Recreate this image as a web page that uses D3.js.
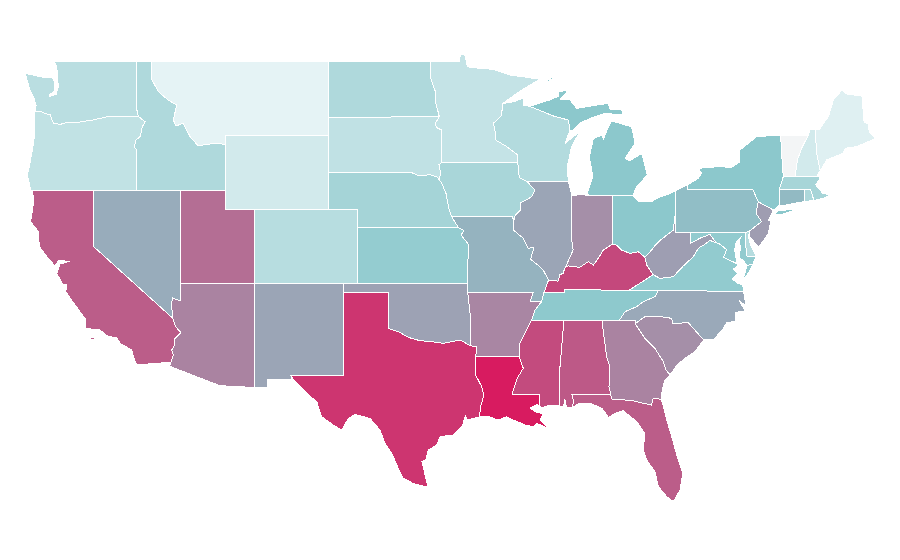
<!DOCTYPE html>
<html><head><meta charset="utf-8"><style>html,body{margin:0;background:#fff}svg{display:block}</style>
<script src="https://cdn.jsdelivr.net/npm/d3@7"></script></head><body><svg id="map" width="900" height="560"></svg>
<script>
// state values (0 = palest, 50 = teal, 100 = crimson)
const stateNames=["ME","VT","NH","MA","RI","CT","NY","PA","NJ","DE","MD","VA","WV","NC","SC","GA","FL","AL","MS","LA","AR","TN","KY","OH","IN","IL","MI","WI","MN","IA","MO","ND","SD","NE","KS","OK","TX","NM","CO","WY","MT","ID","UT","AZ","NV","CA","OR","WA"];
const stateValues=[10,0,16,37,34,54,50,53,62.5,30,47,47,62,59,66.5,70,81,82,86,100,69,49,87,50,66.5,60,50,31,23,36,56,33,25,38,46,61,92.5,60,29,16,7,33,76,70,58,81,24.5,28];
const colorDomain=[0,7,50,100];
const colorRange=["#f3f5f6","#e5f3f5","#8cc8cc","#d81b60"];
// shared borders [lon,lat]
const WA_OR=[[-123.95,46.25],[-123.5,46.27],[-123.2,46.15],[-122.9,46.1],[-122.8,45.85],[-122.65,45.62],[-122.2,45.58],[-121.7,45.69],[-121.2,45.65],[-120.6,45.74],[-120,45.81],[-119.4,45.92],[-119,46],[-116.92,46]];
const OR_ID=[[-116.92,46],[-116.47,45.72],[-116.65,45.45],[-116.81,44.91],[-117.08,44.73],[-117.2,44.37],[-117.05,44.19],[-117.03,43.83],[-117.03,42.02]];
const WA_ID=[[-117.03,49],[-117.04,46.4],[-116.92,46]];
const ID_MT=[[-116.05,49],[-116.05,48.06],[-115.57,47.34],[-114.9,46.89],[-114.33,46.62],[-114.55,45.81],[-114.39,45.49],[-113.88,45.63],[-113.42,44.91],[-112.86,44.41],[-112.29,44.5],[-111.39,44.55],[-111.05,44.46]];
const CA_COAST=[[-124.14,42.02],[-124,41.49],[-124.23,40.32],[-123.71,39.78],[-123.64,38.96],[-123.03,38.33],[-122.58,37.92],[-122.35,38.2],[-121.56,38.18],[-122.24,38.02],[-122.35,37.79],[-122.45,37.5],[-122.05,36.95],[-121.78,36.89],[-121.85,36.53],[-121.3,35.9],[-120.77,35.33],[-120.54,35.09],[-120.54,34.55],[-119.53,34.46],[-118.96,34.1],[-118.39,34.05],[-118.17,33.74],[-117.38,33.38],[-117.15,32.75],[-117.04,32.57]];
const CA_AZ=[[-114.6,35.1],[-114.39,34.64],[-114.05,34.32],[-114.44,34],[-114.51,33.56],[-114.67,33.38],[-114.55,33.1],[-114.72,32.72]];
const NV_AZ=[[-114.04,37],[-114.04,36.2],[-114.1,36.03],[-114.62,36.2],[-114.67,35.8],[-114.6,35.1]];
const RED=[[-100,34.55],[-99.3,34.37],[-98.62,34.06],[-97.83,33.88],[-97.04,33.83],[-96.25,33.74],[-95.12,33.92],[-94.44,33.62]];
const TX_LA=[[-94.04,33.02],[-94.04,32],[-93.65,31.4],[-93.5,30.95],[-93.72,30.31],[-93.81,29.75]];
const AR_TX=[[-94.44,33.62],[-94.01,33.55],[-94.04,33.02]];
const OK_AR=[[-94.6,36.5],[-94.44,35.4],[-94.44,33.62]];
const AR_MO=[[-94.6,36.5],[-90.15,36.5],[-90.37,36],[-89.58,36]];
const AR_TN=[[-89.58,36],[-90.03,35.54],[-90.26,35]];
const AR_MS=[[-90.26,35],[-90.6,34.46],[-91.05,33.74],[-91.1,33.02]];
const LA_MS=[[-91.1,33.02],[-90.83,32.39],[-91.24,31.85],[-91.58,31],[-89.74,31],[-89.7,30.3],[-89.58,30.26]];
const KS_MO=[[-95.23,40],[-94.85,39.83],[-95.05,39.6],[-94.56,39.1],[-94.6,37]];
const IA_WEST=[[-96.5,42.55],[-96.36,42.39],[-96.07,41.85],[-95.85,40.95],[-95.7,40.6]];
const ND_MN=[[-97.15,49],[-97.1,48.06],[-96.81,47.4],[-96.75,46.7],[-96.52,45.99]];
const SD_MN=[[-96.52,45.99],[-96.81,45.6],[-96.7,45.4],[-96.36,45.27],[-96.36,43.5]];
const SD_IA=[[-96.36,43.5],[-96.55,43.4],[-96.45,43],[-96.5,42.55]];
const SD_NE=[[-104.05,43],[-98.5,43],[-97.9,42.8],[-97.15,42.85],[-96.7,42.75],[-96.5,42.55]];
const MN_WI=[[-92.23,46.7],[-92.3,46.04],[-92.86,45.63],[-92.75,45.27],[-92.7,44.73],[-91.95,44.37],[-91.2,43.92],[-91.2,43.5]];
const IA_WI=[[-91.2,43.5],[-91.1,42.7],[-90.6,42.5]];
const IA_IL=[[-90.6,42.5],[-90.03,42.03],[-90.26,41.66],[-91.05,41.31],[-91,40.95],[-91.39,40.64],[-91.46,40.4]];
const MO_IL=[[-91.46,40.4],[-91.5,39.86],[-90.83,39.42],[-90.49,38.88],[-90.1,38.93],[-90.33,38.28],[-89.7,37.88],[-89.47,37.7],[-89.12,37.15]];
const WI_MI=[[-90.4,46.55],[-89.1,46.13],[-88.8,46.03],[-87.78,45.81],[-87.66,45.27]];
const IL_IN=[[-87.53,41.7],[-87.53,39.23],[-87.45,38.78],[-87.9,37.97],[-88,37.83]];
const IL_KY=[[-89.12,37.15],[-88.47,37.1],[-88.35,37.45],[-88.13,37.52],[-88,37.83]];
const IN_KY=[[-88,37.83],[-87.77,37.92],[-87,37.85],[-86.42,38.15],[-86.08,37.97],[-85.75,38.33],[-85.4,38.78],[-84.8,39.1]];
const OH_KY=[[-84.8,39.1],[-84.5,39.05],[-84.16,38.78],[-83.6,38.6],[-83.03,38.69],[-82.58,38.39]];
const OH_WV=[[-82.58,38.39],[-82.13,38.78],[-81.9,39.03],[-81.56,39.3],[-80.66,39.86],[-80.54,40.64]];
const KY_WV=[[-82.58,38.39],[-82.46,37.97],[-82.02,37.45]];
const KY_VA=[[-82.02,37.45],[-82.7,37.1],[-83.68,36.6]];
const KY_TN=[[-83.68,36.6],[-88.05,36.65],[-88.05,36.5],[-89.42,36.5]];
const TN_NC=[[-81.67,36.59],[-81.9,36.26],[-82.7,35.99],[-83.14,35.72],[-83.93,35.45],[-84.3,35]];
const WV_VA=[[-82.02,37.45],[-81.56,37.25],[-80.66,37.34],[-79.98,37.92],[-79.3,38.42],[-78.96,38.88],[-78.5,39.1],[-78.17,39.3],[-77.76,39.18]];
const MD_WV=[[-79.47,39.72],[-79.47,39.15],[-78.85,39.42],[-78.17,39.63],[-77.76,39.18]];
const POTOMAC=[[-77.76,39.18],[-77.5,39.1],[-77.04,38.8],[-77.25,38.4],[-76.9,38.25],[-76.35,38.05]];
const MS_AL=[[-88.07,35],[-88.23,33.5],[-88.39,32],[-88.39,30.37]];
const AL_GA=[[-85.5,35],[-85.18,33.02],[-84.95,32.48],[-85.02,31.4],[-84.9,31]];
const GA_SC=[[-83.25,34.8],[-82.58,34],[-81.9,33.46],[-81.33,32.74],[-81.15,32.3],[-80.88,32.03]];
const GA_FL=[[-84.9,31],[-84.85,30.73],[-83.5,30.65],[-82.13,30.4],[-82.03,30.76],[-81.67,30.74],[-81.45,30.68]];
const FL_AL=[[-84.9,31],[-87.55,31],[-87.42,30.65],[-87.5,30.28]];
const NC_SC=[[-83.25,35],[-83.25,34.8],[-82.58,35.18],[-81.67,35.2],[-80.77,35.09],[-80.7,34.82],[-79.64,34.85],[-78.6,33.92]];
const NY_PA=[[-79.71,42.03],[-75.25,42.03],[-74.9,41.39],[-74.7,41.36]];
const NJ_PA=[[-74.9,41.39],[-75.05,40.76],[-74.67,40.32],[-75.46,39.83]];
const NY_NJ=[[-74.9,41.39],[-73.88,40.95]];
const NY_CT=[[-73.48,42.03],[-73.46,41.22],[-73.76,40.98]];
const NY_VT=[[-73.38,45],[-73.3,43.83],[-73.2,42.75]];
const NY_MA=[[-73.2,42.75],[-73.48,42.03]];
const VT_NH=[[-71.5,45],[-71.96,44.28],[-72.24,43.65],[-72.4,42.75]];
const NH_ME=[[-71.05,45.3],[-70.93,44],[-70.7,43.07]];
const MA_NH=[[-72.4,42.75],[-70.93,42.78],[-70.7,43.07]];
const CT_MA=[[-73.48,42.03],[-71.78,42.03]];
const MA_RI=[[-71.78,42.03],[-71.35,42.03],[-71.12,41.46]];
const OH_IN=[[-84.75,41.72],[-84.8,39.1]];
const statePolys={
WA:[[[-122.64,49],[-122.46,48.7],[-122.4,48.12],[-122.35,47.6],[-122.5,47.2],[-122.95,47.08],[-122.95,47.2],[-122.62,47.35],[-122.62,47.9],[-122.75,48.12],[-123.25,48.1],[-124.6,48.33],[-124.27,47.43],[-124,46.98],[-123.86,46.6],...WA_OR,...[...WA_ID].reverse()]],
OR:[[...WA_OR,...OR_ID,[-124.22,42.02],[-124.45,42.84],[-124.27,43.47],[-124,44.73],[-123.95,46.25]]],
ID:[[...WA_ID,...OR_ID.slice(1),[-111.05,42.02],[-111.05,44.46],...[...ID_MT].reverse()]],
MT:[[...ID_MT,[-111.05,45],[-104.05,45],[-104.05,49]]],
WY:[[[-111.05,45],[-104.05,45],[-104.05,41],[-111.05,41]]],
CA:[[[-124.14,42.02],[-120,42.02],[-120,39],[-114.6,35.1],...CA_AZ,[-117.04,32.57],...[...CA_COAST].reverse()],[[-120.15,34.03],[-119.9,34.03],[-119.9,33.95],[-120.15,33.95]]],
NV:[[[-120,42.02],[-114.04,42.02],[-114.04,37],...NV_AZ.slice(1),[-120,39]]],
UT:[[[-114.04,42.02],[-111.05,42.02],[-111.05,41],[-109.05,41],[-109.05,37],[-114.04,37]]],
AZ:[[...NV_AZ,...CA_AZ.slice(1),[-114.81,32.5],[-111.4,31.45],[-109.05,31.35],[-109.05,37]]],
CO:[[[-109.05,41],[-102.05,41],[-102.05,37],[-109.05,37]]],
NM:[[[-109.05,37],[-103,37],[-103.04,32],[-106.6,32],[-106.5,31.8],[-108.2,31.8],[-108.2,31.35],[-109.05,31.35]]],
TX:[[[-103,36.5],[-100,36.5],...RED,...AR_TX.slice(1),...TX_LA.slice(1),[-94.66,29.59],[-94.75,29.85],[-94.93,29.32],[-95.57,28.78],[-96.47,28.7],[-96.69,28.24],[-97.27,27.97],[-97.44,27.43],[-97.7,27.34],[-97.56,26.89],[-97.44,26.44],[-97.27,25.95],[-98.28,26.16],[-98.96,26.44],[-99.3,26.98],[-99.75,27.8],[-100.2,28.33],[-100.54,29.05],[-101.22,29.68],[-102.24,29.89],[-102.69,29.68],[-103.14,29.05],[-103.71,29.32],[-104.5,29.77],[-104.83,30.58],[-105.4,30.95],[-106.3,31.66],[-106.6,32],[-103.04,32]]],
OK:[[[-103,37],[-94.6,37],[-94.6,36.5],...OK_AR.slice(1),...[...RED].reverse(),[-100,36.5],[-103,36.5]]],
KS:[[[-102.05,40],...KS_MO,[-102.05,37]]],
NE:[[...SD_NE,...IA_WEST.slice(1),[-95.23,40],[-102.05,40],[-102.05,41],[-104.05,41]]],
SD:[[[-104.05,45.95],[-96.52,45.99],...SD_MN.slice(1),...SD_IA.slice(1),...[...SD_NE].reverse()]],
ND:[[[-104.05,49],...ND_MN,[-104.05,45.95]]],
MN:[[...ND_MN,...SD_MN.slice(1),[-91.2,43.5],...[...MN_WI].reverse(),[-90.94,47.43],[-89.7,48.01],[-90.83,48.15],[-91.73,48.24],[-92.4,48.42],[-92.86,48.55],[-93.76,48.6],[-94.62,48.69],[-94.78,49.32],[-95.1,49.35],[-95.15,49]]],
IA:[[[-96.36,43.5],[-91.2,43.5],...IA_WI.slice(1),...IA_IL.slice(1),[-91.6,40.6],[-95.7,40.6],...[...IA_WEST].reverse().slice(1),...[...SD_IA].reverse().slice(1)]],
MO:[[[-95.7,40.6],[-91.6,40.6],[-91.46,40.4],...MO_IL.slice(1),[-89.42,36.5],[-89.58,36],[-90.37,36],[-90.15,36.5],[-94.6,36.5],[-94.6,37],...[...KS_MO].reverse().slice(1)]],
AR:[[...AR_MO,...AR_TN.slice(1),...AR_MS.slice(1),[-94.04,33.02],[-94.01,33.55],[-94.44,33.62],[-94.44,35.4]]],
LA:[[...LA_MS,[-89.92,30.43],[-90.37,30.23],[-89.92,30],[-89.47,29.95],[-89.69,29.59],[-89.12,29.14],[-89.92,29.41],[-90.13,29.23],[-90.68,29.32],[-91.5,29.59],[-91.95,29.77],[-92.52,29.59],[-93.3,29.81],[-93.81,29.75],...[...TX_LA].reverse().slice(1)]],
MS:[[[-90.26,35],[-88.07,35],...MS_AL.slice(1),[-89.1,30.38],[-89.58,30.26],[-89.7,30.3],[-89.74,31],[-91.58,31],[-91.24,31.85],[-90.83,32.39],[-91.1,33.02],[-91.05,33.74],[-90.6,34.46]]],
AL:[[[-88.07,35],...AL_GA,...FL_AL.slice(1),[-87.9,30.3],[-88,30.7],[-88.1,30.3],...[...MS_AL].reverse()]],
TN:[[[-89.42,36.5],...[...KY_TN].reverse().slice(1),[-81.67,36.59],...TN_NC.slice(1),[-90.26,35],[-90.03,35.54],[-89.58,36]]],
KY:[[[-89.12,37.15],...IL_KY.slice(1),...IN_KY.slice(1),...OH_KY.slice(1),...KY_WV.slice(1),...KY_VA.slice(1),...KY_TN.slice(1)]],
IL:[[[-90.6,42.5],[-87.78,42.5],...IL_IN,...[...IL_KY].reverse().slice(1),...[...MO_IL].reverse().slice(1),...[...IA_IL].reverse().slice(1)]],
IN:[[...IL_IN,...IN_KY.slice(1),...[...OH_IN].reverse().slice(1),[-86.8,41.76],[-87.2,41.76]]],
OH:[[[-84.75,41.72],[-83.4,41.73],[-83.03,41.4],[-82.13,41.4],[-81.56,41.66],[-80.93,41.81],[-80.52,41.97],[-80.54,40.64],...[...OH_WV].reverse().slice(1),...[...OH_KY].reverse().slice(1),[-84.8,39.1]]],
MI:[[[-84.84,45.76],[-83.48,45.44],[-83.25,44.55],[-83.93,43.73],[-83.6,43.61],[-82.8,44.01],[-82.42,42.84],[-83.14,42.2],[-83.4,41.73],[-84.75,41.72],[-86.54,41.76],[-86.12,42.75],[-86.35,43.83],[-86.08,44.8],[-85.5,45],[-85.4,44.77],[-85.06,45.44]],[[-90.4,46.55],[-89.02,46.9],[-88.45,47.1],[-88.4,47.34],[-87.78,47.43],[-88.34,46.9],[-87.66,46.9],[-87.2,46.44],[-85.85,46.62],[-85.06,46.71],[-84.95,46.39],[-84.16,46.39],[-84.05,46.08],[-85.3,46.17],[-86.3,45.9],[-87,45.63],[-87.44,45.27],[-87.66,45.27],...[...WI_MI].reverse().slice(1)],[[-89.3,47.9],[-88.9,48.1],[-88.85,48.05],[-89.2,47.85]]],
WI:[[[-92.23,46.7],[-91.5,46.8],[-90.83,46.98],[-90.83,46.62],...WI_MI,[-88,44.55],[-87,45.18],[-87.55,44.37],[-87.84,43.29],[-87.78,42.5],[-90.6,42.5],...[...IA_WI].reverse().slice(1),...[...MN_WI].reverse().slice(1)]],
PA:[[[-80.52,41.97],[-79.71,42.3],...NY_PA.slice(0,3),...NJ_PA.slice(1),[-75.78,39.72],[-79.47,39.72],[-80.52,39.72]]],
NY:[[[-79.71,42.03],[-79.71,42.3],[-78.96,42.66],[-78.74,42.93],[-78.96,43.2],[-77.6,43.29],[-76.7,43.25],[-76.14,43.56],[-76.14,44.19],[-75,44.91],...NY_VT,...NY_MA.slice(1),...NY_CT.slice(1),[-73.88,40.95],[-74.9,41.39],[-75.25,42.03]],[[-73.88,40.68],[-73.54,40.89],[-72.1,41.04],[-73.2,40.73]]],
NJ:[[...NY_NJ,[-74.2,40.4],[-74.05,40.35],[-74.2,39.7],[-74.67,39.15],[-74.9,38.95],[-75.46,39.5],[-75.46,39.83],[-74.67,40.32],[-75.05,40.76]]],
DE:[[[-75.78,39.72],[-75.46,39.83],[-75.56,39.5],[-75.4,39],[-75.05,38.45],[-75.7,38.46]]],
MD:[[[-79.47,39.72],[-75.78,39.72],[-75.7,38.46],[-75.05,38.45],[-75.25,38.03],[-75.65,37.95],[-75.9,38.2],[-76.2,38.4],[-76.1,38.9],[-76.2,39.3],[-76.05,39.5],[-76.4,39.2],[-76.5,38.8],[-76.4,38.3],...[...POTOMAC].reverse(),[-78.17,39.63],[-78.85,39.42],[-79.47,39.15]]],
WV:[[[-80.54,40.64],[-80.54,39.72],[-79.47,39.72],...MD_WV.slice(1),...[...WV_VA].reverse().slice(1),...[...KY_WV].reverse().slice(1),...OH_WV.slice(1)]],
VA:[[...WV_VA,...POTOMAC.slice(1),[-76.3,37.9],[-76.6,37.75],[-76.3,37.5],[-76.65,37.2],[-76.3,37],[-75.95,36.9],[-75.9,36.55],[-81.67,36.59],[-83.68,36.6],...[...KY_VA].reverse().slice(1)],[[-75.25,38.03],[-75.65,37.95],[-75.95,37.15],[-75.6,37.5]]],
NC:[[[-75.9,36.55],[-75.73,35.76],[-76.2,36.05],[-75.79,35.5],[-76.47,35.4],[-76.4,34.93],[-77.04,34.85],[-77.26,34.55],[-77.94,33.92],[-78.6,33.92],...[...NC_SC].reverse().slice(1),[-84.3,35],...[...TN_NC].reverse().slice(1)]],
SC:[[...GA_SC,[-80.4,32.57],[-79.86,32.93],[-79.19,33.29],[-78.6,33.92],...[...NC_SC].reverse().slice(1,-2)]],
GA:[[[-85.5,35],[-83.25,35],...GA_SC.slice(0),[-81.23,31.76],[-81.45,31.04],[-81.45,30.68],...[...GA_FL].reverse().slice(1),...[...AL_GA].reverse().slice(1)]],
FL:[[...GA_FL,[-81.1,29.59],[-80.77,28.7],[-80.32,27.43],[-80.02,26.71],[-80.2,25.81],[-80.65,25.18],[-81.1,25.45],[-81.67,25.99],[-81.9,26.8],[-82.46,27.43],[-82.7,27.97],[-82.58,28.87],[-83.14,29.5],[-84.05,30.1],[-84.6,29.95],[-85.05,29.73],[-85.5,30.23],[-86.19,30.46],[-87,30.5],[-87.5,30.28],[-87.42,30.65],[-87.55,31]]],
VT:[[...NY_VT,[-72.4,42.75],...[...VT_NH].reverse().slice(1)]],
NH:[[[-71.5,45],[-71.39,45.27],[-71.05,45.3],...NH_ME.slice(1),...[...MA_NH].reverse().slice(1),...[...VT_NH].reverse().slice(1,-1)]],
ME:[[...NH_ME,[-70.26,43.65],[-69.13,44.01],[-69,44.28],[-68.23,44.37],[-67.44,44.64],[-66.95,44.82],[-67.37,45.18],[-67.44,45.6],[-67.72,45.7],[-67.87,47.1],[-68.9,47.22],[-69.23,47.43],[-69.8,46.9],[-70.14,46],[-70.76,45.3]]],
MA:[[[-73.2,42.75],[-72.4,42.75],[-70.93,42.78],[-70.66,42.7],[-71,42.3],[-70.53,41.85],[-70.03,41.76],[-70.37,41.61],[-71.12,41.46],[-71.35,42.03],[-71.78,42.03],[-73.48,42.03]]],
RI:[[...MA_RI,[-71.78,41.4]]],
CT:[[...CT_MA,[-71.78,41.4],[-73.42,41.16],[-73.76,40.98],[-73.46,41.22]]]
};
// map scales
const lonScale=d3.scaleLinear().domain([-120,-67]).range([93,874.75]);
const latScale=d3.scaleLinear().domain([49,25]).range([61,505]);
const path=d3.geoPath(d3.geoTransform({point(lon,lat){this.stream.point(lonScale(lon),latScale(lat));}}));
const color=d3.scaleLinear().domain(colorDomain).range(colorRange);
const features=stateNames.map((n,i)=>({type:"Feature",id:n,properties:{value:stateValues[i]},geometry:{type:"MultiPolygon",coordinates:statePolys[n].map(r=>[[...r,r[0]]])}}));
d3.select("#map").selectAll("path").data(features).join("path")
 .attr("d",path).attr("fill",d=>color(d.properties.value))
 .attr("stroke","#fff").attr("stroke-width",1).attr("stroke-linejoin","round")
 .attr("shape-rendering","crispEdges");
</script></body></html>
